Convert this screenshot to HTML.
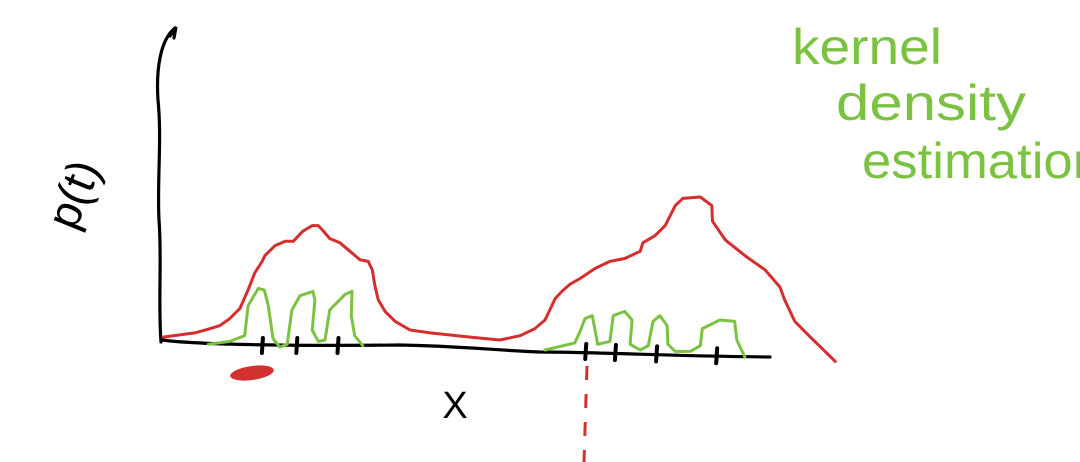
<!DOCTYPE html>
<html><head><meta charset="utf-8">
<style>
html,body{margin:0;padding:0;background:#fff;}
svg{display:block;}
text{font-family:"Liberation Sans",sans-serif;}
</style></head>
<body>
<svg id="chart" width="1080" height="462" viewBox="0 0 1080 462">
  <path d="M161,342 C158,300 162,260 159,220 C157,180 162,140 158,100 C156,70 160,40 175,28 M170,36 L176,27 L174,38" fill="none" stroke="#000" stroke-width="3.2" stroke-linecap="round"/>
  <path d="M162,340 C200,345 300,346 400,345 C460,346 490,350 540,352 C600,352 660,356 770,357" fill="none" stroke="#000" stroke-width="3.2" stroke-linecap="round"/>
  <text transform="translate(88,200) rotate(-68)" font-size="46" fill="#000" text-anchor="middle">p(t)</text>
  <text x="455" y="418" font-size="38" fill="#000" text-anchor="middle">X</text>
  <g fill="#7cc242" font-size="50" font-weight="300">
    <text x="792" y="64" textLength="150" lengthAdjust="spacingAndGlyphs">kernel</text>
    <text x="836" y="120" textLength="190" lengthAdjust="spacingAndGlyphs">density</text>
    <text x="862" y="178" textLength="240" lengthAdjust="spacingAndGlyphs">estimation</text>
  </g>
  <ellipse cx="252" cy="373" rx="22" ry="7" fill="#d43030" transform="rotate(-8 252 373)"/>
  <line x1="587" y1="366" x2="584" y2="462" stroke="#d43030" stroke-width="3" stroke-dasharray="14,14"/>
  <g id="marks"></g>
</svg>
<script>
// density estimate (red) — x in data units 0..100, density 0..1
const redX = [0,4.7,7.0,8.4,9.9,11.4,12.6,13.6,14.7,15.1,16.6,18.1,19.3,20.7,22.1,23.0,23.6,24.7,26.2,27.7,29.2,30.4,31.0,31.4,31.9,32.9,34.4,36.6,39.6,45.5,49.9,52.9,55.1,56.6,57.3,58.1,59.1,60.3,61.8,64.0,66.2,68.4,70.7,71.1,72.9,74.4,75.9,77.0,79.6,81.3,81.4,83.3,86.2,89.2,91.4,92.1,93.6,95.9,99.6];
const redY = [0.02,0.05,0.08,0.10,0.15,0.22,0.35,0.47,0.55,0.59,0.66,0.69,0.69,0.76,0.80,0.80,0.77,0.71,0.68,0.62,0.56,0.55,0.49,0.38,0.28,0.20,0.13,0.07,0.05,0.02,0.00,0.03,0.08,0.14,0.21,0.29,0.34,0.39,0.43,0.50,0.55,0.57,0.62,0.68,0.73,0.80,0.94,0.99,1.00,0.94,0.83,0.70,0.59,0.49,0.37,0.28,0.13,0.02,-0.15];
// kernels (green), two groups
const greenLeftX = [6.7,9.9,12.1,12.6,14.1,15.0,15.6,16.3,17.3,18.4,19.1,20.3,22.2,22.5,22.1,23.0,24.0,24.7,27.0,28.0,27.9,28.4,29.6];
const greenLeftY = [-0.03,-0.01,0.03,0.24,0.36,0.35,0.24,0.01,-0.05,-0.03,0.21,0.31,0.34,0.28,0.07,-0.01,0.00,0.21,0.32,0.34,0.17,0.03,-0.04];
const greenRightX = [56.6,61.0,61.8,62.5,63.6,64.0,64.4,66.2,66.7,68.4,69.5,69.2,70.7,71.9,72.6,73.6,74.7,74.8,75.9,78.1,79.6,79.9,82.5,84.7,85.0,86.2];
const greenRightY = [-0.07,-0.02,0.06,0.15,0.17,0.07,-0.03,-0.01,0.17,0.20,0.14,-0.03,-0.07,-0.04,0.13,0.17,0.10,-0.03,-0.08,-0.08,-0.04,0.08,0.14,0.13,0.00,-0.12];
// sample points
const samples = [14.8,19.9,26.0,62.7,67.1,73.2,82.1];

const sx = v => 163 + v * 6.75;
const sy = d => 340 - d * 143;
const baseY = v => { const px = sx(v); return px < 400 ? 345 : 345 + (px - 400) * 12 / 370; };
const NS = 'http://www.w3.org/2000/svg';
const g = document.getElementById('marks');

function poly(xs, ys, color, name) {
  const p = document.createElementNS(NS, 'path');
  p.setAttribute('d', xs.map((x, i) => (i ? 'L' : 'M') + sx(x).toFixed(1) + ',' + sy(ys[i]).toFixed(1)).join(''));
  p.setAttribute('fill', 'none');
  p.setAttribute('stroke', color);
  p.setAttribute('stroke-width', '3');
  p.setAttribute('stroke-linejoin', 'round');
  p.setAttribute('stroke-linecap', 'round');
  
  
  g.appendChild(p);
}
poly(redX, redY, '#d42e2e', 'density-curve');
poly(greenLeftX, greenLeftY, '#7cc242', 'kernels-left');
poly(greenRightX, greenRightY, '#7cc242', 'kernels-right');

samples.forEach(v => {
  const l = document.createElementNS(NS, 'line');
  const x = sx(v), y = baseY(v);
  l.setAttribute('x1', x); l.setAttribute('x2', x - 1);
  l.setAttribute('y1', y - 7); l.setAttribute('y2', y + 8);
  l.setAttribute('stroke', '#000');
  l.setAttribute('stroke-width', '4');
  l.setAttribute('stroke-linecap', 'round');
  
  
  g.appendChild(l);
});
</script>
</body></html>
